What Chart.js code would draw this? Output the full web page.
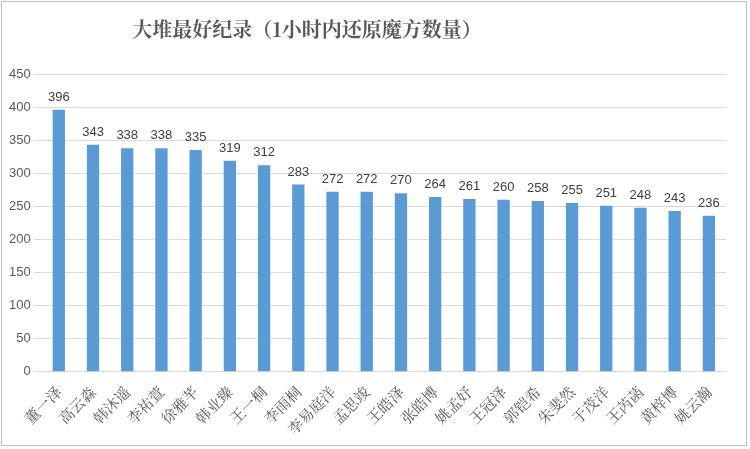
<!DOCTYPE html>
<html><head><meta charset="utf-8">
<script src="https://cdn.jsdelivr.net/npm/chart.js@4"></script>
<style>html,body{margin:0;padding:0;background:#fff}
#w{position:absolute;left:1px;top:1px;width:746px;height:445px;border:1px solid #bfbfbf;box-sizing:border-box}
</style></head><body>
<div id="w"><canvas id="c"></canvas></div>
<script>
const categories=["董一泽","高云淼","韩沐遥","李祐萱","徐雅芊","韩业臻","王一桐","李雨桐","李易庭洋","孟思竣","王皓泽","张皓博","姚孟妤","王冠泽","郭铠希","朱斐然","于茂洋","王芮菡","黄梓博","姚云瀚"];
const values=[396,343,338,338,335,319,312,283,272,272,270,264,261,260,258,255,251,248,243,236];
const titleText="大堆最好纪录（1小时内还原魔方数量）";
const labelPlugin={id:'lbl',afterDatasetsDraw(ch){const ctx=ch.ctx;const m=ch.getDatasetMeta(0);ctx.save();ctx.font='13px "Liberation Sans",Arial';ctx.fillStyle='#404040';ctx.textAlign='center';ctx.textBaseline='bottom';m.data.forEach((b,i)=>ctx.fillText(values[i],b.x,b.y-6));
ctx.font='bold 20px "Noto Serif CJK SC","Noto Sans CJK SC"';ctx.fillStyle='#595959';ctx.textAlign='center';ctx.textBaseline='middle';ctx.fillText(titleText,305,27);ctx.restore();}};
new Chart(document.getElementById('c'),{type:'bar',data:{labels:categories,datasets:[{data:values,backgroundColor:'#5B9BD5',categoryPercentage:0.6,barPercentage:0.6}]},
options:{responsive:true,maintainAspectRatio:false,animation:false,devicePixelRatio:1,
layout:{padding:{left:4,right:20,top:72,bottom:4}},
plugins:{legend:{display:false},tooltip:{enabled:false},title:{display:false}},
scales:{y:{min:0,max:450,ticks:{stepSize:50,color:'#595959',font:{family:'"Liberation Sans",Arial',size:13}},grid:{color:'#d9d9d9'},border:{display:false}},
x:{grid:{display:false},border:{color:'#d9d9d9'},ticks:{color:'#595959',minRotation:45,maxRotation:45,font:{family:'"Noto Serif CJK SC","Noto Sans CJK SC"',size:15}}}}},
plugins:[labelPlugin]});
</script></body></html>
